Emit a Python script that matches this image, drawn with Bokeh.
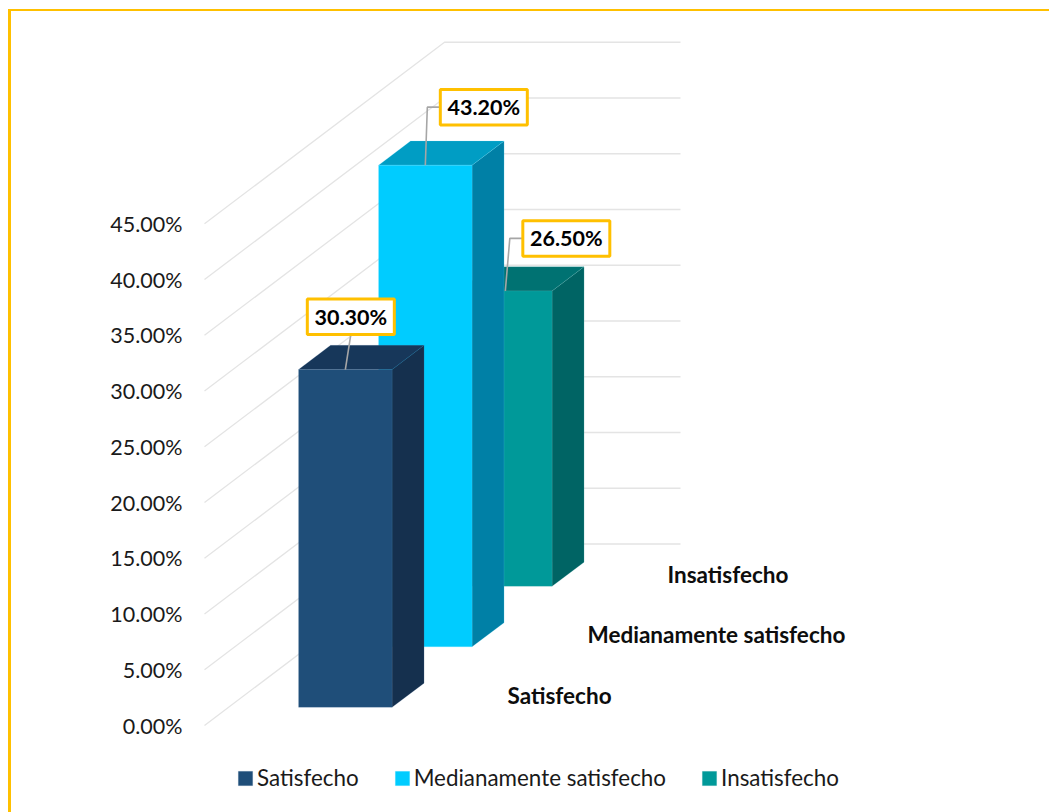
from bokeh.core.properties import value
from bokeh.embed import file_html
from bokeh.models import FixedTicker, Legend, LegendItem, PrintfTickFormatter
from bokeh.plotting import figure
from bokeh.resources import INLINE

# ---- data ----
categories = ["Satisfecho", "Medianamente satisfecho", "Insatisfecho"]
values = [30.3, 43.2, 26.5]
tick_values = [0, 5, 10, 15, 20, 25, 30, 35, 40, 45]
front_colors = ["#1F4E79", "#00CCFF", "#009999"]
side_colors = ["#15304E", "#0080A6", "#006464"]
top_colors = ["#17375A", "#009DC4", "#007272"]
edge_colors = ["#5B82A8", "#66E0FF", "#66C2C2"]

# ---- projection (x in page pixels, y in percent) ----
W, H = 1041, 803
ORIGIN_X, ORIGIN_Y = 11, 11   # canvas origin: margin plus border
FRAME_X = 190
PX_PER_PCT = 11.15
Y0 = 725.0
WALL_X = 204.0
FLOOR_W = 236.0
STEP_X, STEP_Y = 80.0, 60.5 / PX_PER_PCT
N = len(categories)
BAR_A, BAR_B = 0.3, 0.7
ACROSS_A, ACROSS_B = 0.297, 0.693


def proj(across, depth, v):
    return WALL_X + across * FLOOR_W + depth * STEP_X, v + depth * STEP_Y


p = figure(
    width=W, height=H, output_backend="svg", toolbar_location=None,
    x_range=(FRAME_X, ORIGIN_X + W),
    y_range=((Y0 - ORIGIN_Y - H) / PX_PER_PCT, (Y0 - ORIGIN_Y) / PX_PER_PCT),
    min_border_left=FRAME_X - ORIGIN_X, min_border_right=0, min_border_top=0, min_border_bottom=0,
    x_axis_location=None, outline_line_color=None, background_fill_color="white",
)
p.margin = (9, 0, 0, 8)
p.styles = {"border-left": "3px solid #FFC000", "border-top": "2px solid #FFC000", "box-sizing": "border-box"}
p.grid.visible = False

ax = p.yaxis[0]
ax.ticker = FixedTicker(ticks=tick_values)
ax.formatter = PrintfTickFormatter(format="%.2f%%")
ax.axis_line_color = None
ax.major_tick_line_color = None
ax.minor_tick_line_color = None
ax.major_label_standoff = 2
ax.major_label_text_font = "Lato"
ax.major_label_text_font_size = "21.5px"
ax.major_label_text_color = "#1A1A1A"

# wall gridlines
xs, ys = [], []
for t in tick_values:
    a = proj(0, 0, t)
    b = proj(0, N, t)
    c = proj(1, N, t)
    xs.append([a[0], b[0], c[0]])
    ys.append([a[1], b[1], c[1]])
p.multi_line(xs, ys, line_color="#E4E4E4", line_width=1.3)

# bars, back to front
fronts = {}
for i in reversed(range(N)):
    v = values[i]
    d0, d1 = i + BAR_A, i + BAR_B
    fl, fb = proj(ACROSS_A, d0, 0)
    fr, _ = proj(ACROSS_B, d0, 0)
    br, bb = proj(ACROSS_B, d1, 0)
    bl, _ = proj(ACROSS_A, d1, 0)
    p.patch([fr, br, br, fr], [fb, bb, bb + v, fb + v], fill_color=side_colors[i],
            line_color=edge_colors[i], line_width=0.5, line_alpha=0.35)
    p.patch([fl, fr, br, bl], [fb + v, fb + v, bb + v, bb + v], fill_color=top_colors[i],
            line_color=edge_colors[i], line_width=0.5, line_alpha=0.35)
    fronts[i] = p.quad(left=[fl], right=[fr], bottom=[fb], top=[fb + v], fill_color=front_colors[i],
                       line_color=edge_colors[i], line_width=0.5, line_alpha=0.35)

# category labels on the floor
lab_x, lab_y = [], []
for i in range(N):
    x, y = proj(1, i + 0.5, 0)
    lab_x.append(x)
    lab_y.append(y)
p.text(lab_x, lab_y, text=categories, x_offset=27, text_align="left", text_baseline="middle",
       text_font=value("Lato"), text_font_style="bold", text_font_size="22.5px", text_color="#0D0D0D")

# data labels with leader lines: box centre offsets from the anchor (px)
box_dx = [5.5, 58.5, 61]
box_dy = [52.8, 58, 52.5]
BOX_W, BOX_H = 87, 35.5
for i in range(N):
    ax_, ay = proj(0.495, i + BAR_A, values[i])
    cx = ax_ + box_dx[i]
    cy = ay + box_dy[i] / PX_PER_PCT
    if i == 0:
        lx = [ax_, cx]
        ly = [ay, cy - BOX_H / 2 / PX_PER_PCT]
    else:
        left = cx - BOX_W / 2
        lx = [ax_, ax_ + (2 if i == 1 else 4.5), left]
        ly = [ay, cy, cy]
    p.line(lx, ly, line_color="#A6A6A6", line_width=1.6)
    p.rect([cx], [cy], width=BOX_W, height=BOX_H / PX_PER_PCT, fill_color="white",
           line_color="#FFC000", line_width=3)
    p.text([cx], [cy], text=[f"{values[i]:.2f}%"], text_align="center", text_baseline="middle",
           text_font=value("Lato"), text_font_style="bold", text_font_size="21.5px", text_color="#000000")

legend = Legend(
    items=[LegendItem(label=c, renderers=[fronts[i]]) for i, c in enumerate(categories)],
    orientation="horizontal", location=(46, 23), padding=0, margin=0, spacing=34,
    label_standoff=3, glyph_width=18, glyph_height=18, border_line_color=None,
    background_fill_alpha=0, label_text_font="Lato", label_text_font_size="22.4px",
    label_text_color="#1A1A1A", label_height=18,
)
p.add_layout(legend, "center")

open("out.html", "w").write(file_html(p, INLINE))
